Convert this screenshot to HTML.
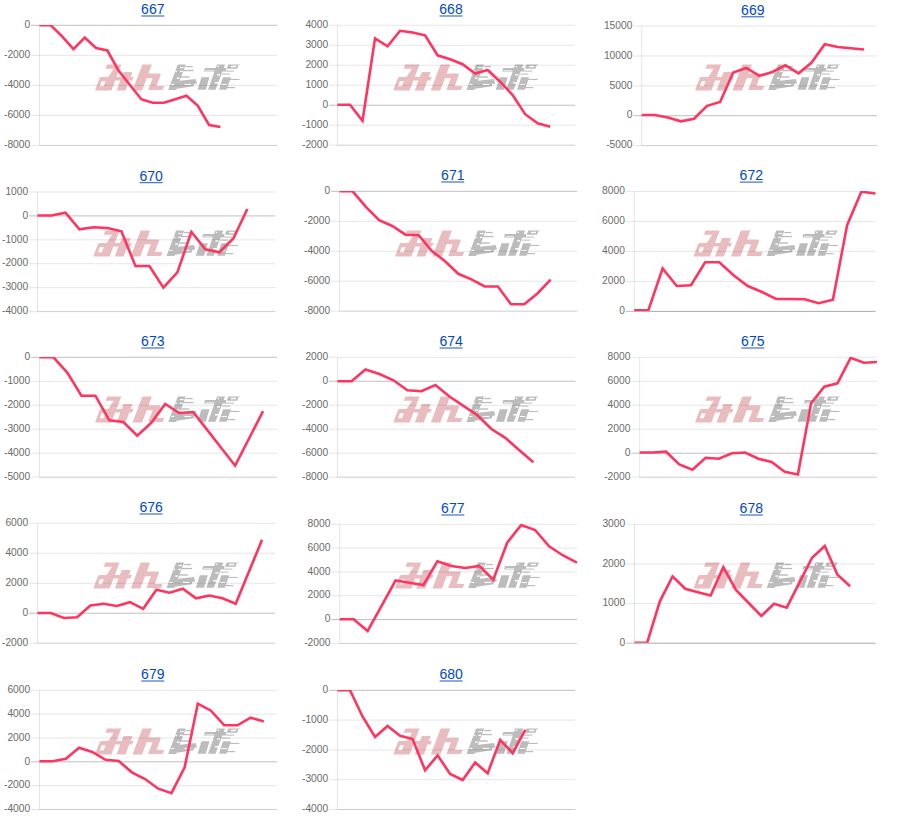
<!DOCTYPE html><html><head><meta charset="utf-8"><title>charts</title><style>
html,body{margin:0;padding:0;background:#fff;width:900px;height:830px;overflow:hidden}
svg{display:block}
.yl{font-family:"Liberation Sans",sans-serif;font-size:10.8px;fill:#6a6a6a;text-anchor:end}
.tt{font-family:"Liberation Sans",sans-serif;font-size:14px;fill:#0048c8;text-anchor:middle}
</style></head><body>
<svg width="900" height="830" viewBox="0 0 900 830">
<defs><g id="wm">
<g fill="#e9bcc0" transform="matrix(1,0,-0.38,1,9.88,0)">
<path d="M2.2,0 L16.4,0 L16.4,4.4 L2.2,4.4ZM10.5,4.4 L16.4,4.4 L16.4,26 L7.1,26 L7.1,16.9ZM0.6,12.5 L16.4,12.5 L16.4,16.9 L0,16.9ZM0,13.1 L3.1,12.5 L3.1,26 L0.6,26 L0,25.4ZM0,21.8 L16.4,21.8 L16.4,26 L0.6,26 L0,25.4ZM10.5,12.5 L33.4,12.5 L33.4,16.2 L10.5,16.2ZM21.5,7.5 L30.4,7.5 L30.4,26 L21.5,26ZM37.5,0 L47,0 L47,26 L37.5,26ZM47,9 L58.5,9 L59.8,10.3 L59.8,13.9 L47,13.9ZM53,13.9 L59.8,13.9 L59.8,25.5 L53,25.5ZM53,21.5 L67.5,21.5 L67.5,25.5 L53,25.5Z"/>
</g>
<g fill="#bcbcbc">
<path d="M82.8,0 L90.8,0 L81.2,25.5 L73.2,25.5ZM85,16.4 L100.8,14.6 L101.9,19 L98.8,19.6 L98.8,21.9 L73.2,25.5 L76,18ZM106.5,12.9 L114.5,12.9 L110.8,25.3 L102.5,25.3ZM110,3.7 L131,3.7 L131,7.2 L109,7.2ZM122,0 L130,0 L120.5,25.3 L113,25.3ZM128,12.9 L136,12.9 L131.5,25.3 L124,25.3Z"/>
<path fill-rule="evenodd" d="M133.3,0 L145,0 L144.6,0.7 L143.6,0.7 L142.1,4.45 L131.6,4.45 Z M136.1,1.45 L141.3,1.45 L140.8,2.95 L135.6,2.95 Z"/>
<rect x="90.8" y="1.5" width="6.9" height="1.3"/>
<rect x="88" y="5.5" width="10.6" height="1.3"/>
<rect x="86" y="11.9" width="8.6" height="1.4"/>
<rect x="131" y="6.2" width="8" height="1"/>
<rect x="127" y="9.2" width="8" height="1"/>
<rect x="135" y="14.5" width="9.5" height="1.1"/>
<rect x="132" y="22.6" width="8" height="1.2"/>
</g>
<g fill="#fff">
<rect x="85" y="2.6" width="3.6" height="1.1"/>
<rect x="80.3" y="6.4" width="1.6" height="1.3"/>
<rect x="85" y="6.4" width="2.7" height="1.3"/>
<rect x="81.9" y="13" width="2.7" height="1.4"/>
<rect x="76.1" y="19.5" width="3.1" height="1.1"/>
<rect x="89.4" y="19.5" width="6.7" height="1.1"/>
<rect x="122.5" y="1.4" width="1.5" height="1.2"/>
<rect x="110.5" y="5.6" width="8.5" height="0.6"/>
<rect x="122" y="9.8" width="3" height="1.4"/>
<rect x="120" y="17.6" width="5" height="1.5"/>
<rect x="126.5" y="19.7" width="5.5" height="1"/>
</g>
</g></defs>
<use href="#wm" x="95" y="64.4"/>
<line x1="31" y1="25.3" x2="277" y2="25.3" stroke="rgba(0,0,0,0.25)" stroke-width="1"/>
<text transform="translate(30.2,28) scale(0.95,1)" class="yl">0</text>
<line x1="31" y1="55.33" x2="277" y2="55.33" stroke="rgba(0,0,0,0.1)" stroke-width="1"/>
<text transform="translate(30.2,58.03) scale(0.95,1)" class="yl">-2000</text>
<line x1="31" y1="85.35" x2="277" y2="85.35" stroke="rgba(0,0,0,0.1)" stroke-width="1"/>
<text transform="translate(30.2,88.05) scale(0.95,1)" class="yl">-4000</text>
<line x1="31" y1="115.38" x2="277" y2="115.38" stroke="rgba(0,0,0,0.1)" stroke-width="1"/>
<text transform="translate(30.2,118.08) scale(0.95,1)" class="yl">-6000</text>
<line x1="31" y1="145.4" x2="277" y2="145.4" stroke="rgba(0,0,0,0.1)" stroke-width="1"/>
<text transform="translate(30.2,148.1) scale(0.95,1)" class="yl">-8000</text>
<line x1="39.5" y1="145.4" x2="277" y2="145.4" stroke="rgba(0,0,0,0.1)" stroke-width="1"/>
<line x1="39.5" y1="25.3" x2="39.5" y2="145.4" stroke="rgba(0,0,0,0.1)" stroke-width="1"/>
<clipPath id="c667"><rect x="36.5" y="24.9" width="243.5" height="120.1"/></clipPath>
<polyline clip-path="url(#c667)" points="39.5,25.3 50.81,25.3 62.12,36.3 73.43,49.2 84.74,37.5 96.05,48 107.36,50.5 118.67,70.8 129.98,85 141.29,99.2 152.6,102.8 163.9,102.8 175.21,99.2 186.52,95.8 197.83,105.8 209.14,125 220.45,127" fill="none" stroke="#ff3560" stroke-width="2.6" stroke-linejoin="miter" stroke-miterlimit="10" stroke-linecap="butt"/>
<text x="152.8" y="14.3" class="tt">667</text>
<rect x="141.3" y="15.5" width="23" height="1" fill="#1d55c4"/>
<use href="#wm" x="393.2" y="64.4"/>
<line x1="329" y1="25.3" x2="575.2" y2="25.3" stroke="rgba(0,0,0,0.1)" stroke-width="1"/>
<text transform="translate(328.2,28) scale(0.95,1)" class="yl">4000</text>
<line x1="329" y1="45.28" x2="575.2" y2="45.28" stroke="rgba(0,0,0,0.1)" stroke-width="1"/>
<text transform="translate(328.2,47.98) scale(0.95,1)" class="yl">3000</text>
<line x1="329" y1="65.27" x2="575.2" y2="65.27" stroke="rgba(0,0,0,0.1)" stroke-width="1"/>
<text transform="translate(328.2,67.97) scale(0.95,1)" class="yl">2000</text>
<line x1="329" y1="85.25" x2="575.2" y2="85.25" stroke="rgba(0,0,0,0.1)" stroke-width="1"/>
<text transform="translate(328.2,87.95) scale(0.95,1)" class="yl">1000</text>
<line x1="329" y1="105.23" x2="575.2" y2="105.23" stroke="rgba(0,0,0,0.25)" stroke-width="1"/>
<text transform="translate(328.2,107.93) scale(0.95,1)" class="yl">0</text>
<line x1="329" y1="125.22" x2="575.2" y2="125.22" stroke="rgba(0,0,0,0.1)" stroke-width="1"/>
<text transform="translate(328.2,127.92) scale(0.95,1)" class="yl">-1000</text>
<line x1="329" y1="145.2" x2="575.2" y2="145.2" stroke="rgba(0,0,0,0.1)" stroke-width="1"/>
<text transform="translate(328.2,147.9) scale(0.95,1)" class="yl">-2000</text>
<line x1="337.5" y1="145.2" x2="575.2" y2="145.2" stroke="rgba(0,0,0,0.1)" stroke-width="1"/>
<line x1="337.5" y1="25.3" x2="337.5" y2="145.2" stroke="rgba(0,0,0,0.1)" stroke-width="1"/>
<clipPath id="c668"><rect x="334.5" y="24.9" width="243.7" height="119.9"/></clipPath>
<polyline clip-path="url(#c668)" points="337.5,104.7 350.01,104.7 362.52,120.8 375.03,38.3 387.54,46.3 400.05,30.8 412.56,32.5 425.07,35.3 437.58,55.3 450.09,59.2 462.61,64.2 475.12,73.5 487.63,70 500.14,81.7 512.65,95 525.16,114.2 537.67,123.3 550.18,126.7" fill="none" stroke="#ff3560" stroke-width="2.6" stroke-linejoin="miter" stroke-miterlimit="10" stroke-linecap="butt"/>
<text x="451" y="14.3" class="tt">668</text>
<rect x="439.5" y="15.5" width="23" height="1" fill="#1d55c4"/>
<use href="#wm" x="695" y="64.4"/>
<line x1="633.2" y1="26.1" x2="877" y2="26.1" stroke="rgba(0,0,0,0.1)" stroke-width="1"/>
<text transform="translate(632.4,28.8) scale(0.95,1)" class="yl">15000</text>
<line x1="633.2" y1="55.98" x2="877" y2="55.98" stroke="rgba(0,0,0,0.1)" stroke-width="1"/>
<text transform="translate(632.4,58.68) scale(0.95,1)" class="yl">10000</text>
<line x1="633.2" y1="85.85" x2="877" y2="85.85" stroke="rgba(0,0,0,0.1)" stroke-width="1"/>
<text transform="translate(632.4,88.55) scale(0.95,1)" class="yl">5000</text>
<line x1="633.2" y1="115.72" x2="877" y2="115.72" stroke="rgba(0,0,0,0.25)" stroke-width="1"/>
<text transform="translate(632.4,118.42) scale(0.95,1)" class="yl">0</text>
<line x1="633.2" y1="145.6" x2="877" y2="145.6" stroke="rgba(0,0,0,0.1)" stroke-width="1"/>
<text transform="translate(632.4,148.3) scale(0.95,1)" class="yl">-5000</text>
<line x1="641.7" y1="145.6" x2="877" y2="145.6" stroke="rgba(0,0,0,0.1)" stroke-width="1"/>
<line x1="641.7" y1="26.1" x2="641.7" y2="145.6" stroke="rgba(0,0,0,0.1)" stroke-width="1"/>
<clipPath id="c669"><rect x="638.7" y="25.7" width="241.3" height="119.5"/></clipPath>
<polyline clip-path="url(#c669)" points="641.7,115 654.77,115 667.84,117.5 680.92,121.3 693.99,118.7 707.06,105.8 720.13,102 733.21,72.5 746.28,68 759.35,75.8 772.42,72 785.49,65.3 798.57,73.3 811.64,62.5 824.71,44.2 837.78,47 850.86,48.3 863.93,49.5" fill="none" stroke="#ff3560" stroke-width="2.6" stroke-linejoin="miter" stroke-miterlimit="10" stroke-linecap="butt"/>
<text x="752.8" y="15.1" class="tt">669</text>
<rect x="741.3" y="16.3" width="23" height="1" fill="#1d55c4"/>
<use href="#wm" x="93.3" y="230.4"/>
<line x1="29" y1="192" x2="275.3" y2="192" stroke="rgba(0,0,0,0.1)" stroke-width="1"/>
<text transform="translate(28.2,194.7) scale(0.95,1)" class="yl">1000</text>
<line x1="29" y1="215.92" x2="275.3" y2="215.92" stroke="rgba(0,0,0,0.25)" stroke-width="1"/>
<text transform="translate(28.2,218.62) scale(0.95,1)" class="yl">0</text>
<line x1="29" y1="239.84" x2="275.3" y2="239.84" stroke="rgba(0,0,0,0.1)" stroke-width="1"/>
<text transform="translate(28.2,242.54) scale(0.95,1)" class="yl">-1000</text>
<line x1="29" y1="263.76" x2="275.3" y2="263.76" stroke="rgba(0,0,0,0.1)" stroke-width="1"/>
<text transform="translate(28.2,266.46) scale(0.95,1)" class="yl">-2000</text>
<line x1="29" y1="287.68" x2="275.3" y2="287.68" stroke="rgba(0,0,0,0.1)" stroke-width="1"/>
<text transform="translate(28.2,290.38) scale(0.95,1)" class="yl">-3000</text>
<line x1="29" y1="311.6" x2="275.3" y2="311.6" stroke="rgba(0,0,0,0.1)" stroke-width="1"/>
<text transform="translate(28.2,314.3) scale(0.95,1)" class="yl">-4000</text>
<line x1="37.5" y1="311.6" x2="275.3" y2="311.6" stroke="rgba(0,0,0,0.1)" stroke-width="1"/>
<line x1="37.5" y1="192" x2="37.5" y2="311.6" stroke="rgba(0,0,0,0.1)" stroke-width="1"/>
<clipPath id="c670"><rect x="34.5" y="191.6" width="243.8" height="119.6"/></clipPath>
<polyline clip-path="url(#c670)" points="37.5,215.5 51.49,215.5 65.48,212.7 79.46,229.3 93.45,227.2 107.44,228 121.43,231.3 135.42,266 149.41,266 163.39,287.7 177.38,272.3 191.37,231.8 205.36,249.3 219.35,252.3 233.34,238.5 247.32,209" fill="none" stroke="#ff3560" stroke-width="2.6" stroke-linejoin="miter" stroke-miterlimit="10" stroke-linecap="butt"/>
<text x="151.1" y="181" class="tt">670</text>
<rect x="139.6" y="182.2" width="23" height="1" fill="#1d55c4"/>
<use href="#wm" x="395" y="230.4"/>
<line x1="331" y1="191.3" x2="577" y2="191.3" stroke="rgba(0,0,0,0.25)" stroke-width="1"/>
<text transform="translate(330.2,194) scale(0.95,1)" class="yl">0</text>
<line x1="331" y1="221.28" x2="577" y2="221.28" stroke="rgba(0,0,0,0.1)" stroke-width="1"/>
<text transform="translate(330.2,223.97) scale(0.95,1)" class="yl">-2000</text>
<line x1="331" y1="251.25" x2="577" y2="251.25" stroke="rgba(0,0,0,0.1)" stroke-width="1"/>
<text transform="translate(330.2,253.95) scale(0.95,1)" class="yl">-4000</text>
<line x1="331" y1="281.23" x2="577" y2="281.23" stroke="rgba(0,0,0,0.1)" stroke-width="1"/>
<text transform="translate(330.2,283.93) scale(0.95,1)" class="yl">-6000</text>
<line x1="331" y1="311.2" x2="577" y2="311.2" stroke="rgba(0,0,0,0.1)" stroke-width="1"/>
<text transform="translate(330.2,313.9) scale(0.95,1)" class="yl">-8000</text>
<line x1="339.5" y1="311.2" x2="577" y2="311.2" stroke="rgba(0,0,0,0.1)" stroke-width="1"/>
<line x1="339.5" y1="191.3" x2="339.5" y2="311.2" stroke="rgba(0,0,0,0.1)" stroke-width="1"/>
<clipPath id="c671"><rect x="336.5" y="190.9" width="243.5" height="119.9"/></clipPath>
<polyline clip-path="url(#c671)" points="339.5,191.3 352.69,191.3 365.89,206.8 379.08,220.2 392.28,226 405.47,234.7 418.67,235.2 431.86,251 445.06,261.3 458.25,273.8 471.44,279.3 484.64,286.5 497.83,286.5 511.03,304.3 524.22,304.3 537.42,293.5 550.61,279.7" fill="none" stroke="#ff3560" stroke-width="2.6" stroke-linejoin="miter" stroke-miterlimit="10" stroke-linecap="butt"/>
<text x="452.8" y="180.3" class="tt">671</text>
<rect x="441.3" y="181.5" width="23" height="1" fill="#1d55c4"/>
<use href="#wm" x="693.5" y="230.4"/>
<line x1="625.7" y1="191.4" x2="875.5" y2="191.4" stroke="rgba(0,0,0,0.1)" stroke-width="1"/>
<text transform="translate(624.9,194.1) scale(0.95,1)" class="yl">8000</text>
<line x1="625.7" y1="221.4" x2="875.5" y2="221.4" stroke="rgba(0,0,0,0.1)" stroke-width="1"/>
<text transform="translate(624.9,224.1) scale(0.95,1)" class="yl">6000</text>
<line x1="625.7" y1="251.4" x2="875.5" y2="251.4" stroke="rgba(0,0,0,0.1)" stroke-width="1"/>
<text transform="translate(624.9,254.1) scale(0.95,1)" class="yl">4000</text>
<line x1="625.7" y1="281.4" x2="875.5" y2="281.4" stroke="rgba(0,0,0,0.1)" stroke-width="1"/>
<text transform="translate(624.9,284.1) scale(0.95,1)" class="yl">2000</text>
<line x1="625.7" y1="311.4" x2="875.5" y2="311.4" stroke="rgba(0,0,0,0.25)" stroke-width="1"/>
<text transform="translate(624.9,314.1) scale(0.95,1)" class="yl">0</text>
<line x1="634.2" y1="311.4" x2="875.5" y2="311.4" stroke="rgba(0,0,0,0.1)" stroke-width="1"/>
<line x1="634.2" y1="191.4" x2="634.2" y2="311.4" stroke="rgba(0,0,0,0.1)" stroke-width="1"/>
<clipPath id="c672"><rect x="631.2" y="191" width="247.3" height="120"/></clipPath>
<polyline clip-path="url(#c672)" points="634.2,310.2 648.39,310.2 662.59,268.5 676.78,286 690.98,285.2 705.17,262.3 719.36,262.3 733.56,275.2 747.75,286 761.95,292 776.14,299 790.34,299 804.53,299.3 818.72,303.2 832.92,299.7 847.11,225.2 861.31,191.8 875.5,193.5" fill="none" stroke="#ff3560" stroke-width="2.6" stroke-linejoin="miter" stroke-miterlimit="10" stroke-linecap="butt"/>
<text x="751.3" y="180.4" class="tt">672</text>
<rect x="739.8" y="181.6" width="23" height="1" fill="#1d55c4"/>
<use href="#wm" x="95" y="396.4"/>
<line x1="31" y1="357.3" x2="277" y2="357.3" stroke="rgba(0,0,0,0.25)" stroke-width="1"/>
<text transform="translate(30.2,360) scale(0.95,1)" class="yl">0</text>
<line x1="31" y1="381.28" x2="277" y2="381.28" stroke="rgba(0,0,0,0.1)" stroke-width="1"/>
<text transform="translate(30.2,383.98) scale(0.95,1)" class="yl">-1000</text>
<line x1="31" y1="405.26" x2="277" y2="405.26" stroke="rgba(0,0,0,0.1)" stroke-width="1"/>
<text transform="translate(30.2,407.96) scale(0.95,1)" class="yl">-2000</text>
<line x1="31" y1="429.24" x2="277" y2="429.24" stroke="rgba(0,0,0,0.1)" stroke-width="1"/>
<text transform="translate(30.2,431.94) scale(0.95,1)" class="yl">-3000</text>
<line x1="31" y1="453.22" x2="277" y2="453.22" stroke="rgba(0,0,0,0.1)" stroke-width="1"/>
<text transform="translate(30.2,455.92) scale(0.95,1)" class="yl">-4000</text>
<line x1="31" y1="477.2" x2="277" y2="477.2" stroke="rgba(0,0,0,0.1)" stroke-width="1"/>
<text transform="translate(30.2,479.9) scale(0.95,1)" class="yl">-5000</text>
<line x1="39.5" y1="477.2" x2="277" y2="477.2" stroke="rgba(0,0,0,0.1)" stroke-width="1"/>
<line x1="39.5" y1="357.3" x2="39.5" y2="477.2" stroke="rgba(0,0,0,0.1)" stroke-width="1"/>
<clipPath id="c673"><rect x="36.5" y="356.9" width="243.5" height="119.9"/></clipPath>
<polyline clip-path="url(#c673)" points="39.5,357.3 53.47,357.3 67.44,372.8 81.41,395.7 95.38,395.7 109.35,420.3 123.32,422 137.29,435.7 151.26,422.8 165.24,404 179.21,413 193.18,412 207.15,429.9 221.12,447.8 235.09,465.7 249.06,438.5 263.03,411.2" fill="none" stroke="#ff3560" stroke-width="2.6" stroke-linejoin="miter" stroke-miterlimit="10" stroke-linecap="butt"/>
<text x="152.8" y="346.3" class="tt">673</text>
<rect x="141.3" y="347.5" width="23" height="1" fill="#1d55c4"/>
<use href="#wm" x="393.3" y="396.4"/>
<line x1="329" y1="357.3" x2="575.3" y2="357.3" stroke="rgba(0,0,0,0.1)" stroke-width="1"/>
<text transform="translate(328.2,360) scale(0.95,1)" class="yl">2000</text>
<line x1="329" y1="381.28" x2="575.3" y2="381.28" stroke="rgba(0,0,0,0.25)" stroke-width="1"/>
<text transform="translate(328.2,383.98) scale(0.95,1)" class="yl">0</text>
<line x1="329" y1="405.26" x2="575.3" y2="405.26" stroke="rgba(0,0,0,0.1)" stroke-width="1"/>
<text transform="translate(328.2,407.96) scale(0.95,1)" class="yl">-2000</text>
<line x1="329" y1="429.24" x2="575.3" y2="429.24" stroke="rgba(0,0,0,0.1)" stroke-width="1"/>
<text transform="translate(328.2,431.94) scale(0.95,1)" class="yl">-4000</text>
<line x1="329" y1="453.22" x2="575.3" y2="453.22" stroke="rgba(0,0,0,0.1)" stroke-width="1"/>
<text transform="translate(328.2,455.92) scale(0.95,1)" class="yl">-6000</text>
<line x1="329" y1="477.2" x2="575.3" y2="477.2" stroke="rgba(0,0,0,0.1)" stroke-width="1"/>
<text transform="translate(328.2,479.9) scale(0.95,1)" class="yl">-8000</text>
<line x1="337.5" y1="477.2" x2="575.3" y2="477.2" stroke="rgba(0,0,0,0.1)" stroke-width="1"/>
<line x1="337.5" y1="357.3" x2="337.5" y2="477.2" stroke="rgba(0,0,0,0.1)" stroke-width="1"/>
<clipPath id="c674"><rect x="334.5" y="356.9" width="243.8" height="119.9"/></clipPath>
<polyline clip-path="url(#c674)" points="337.5,381.2 351.49,381.2 365.48,369.5 379.46,374 393.45,380.3 407.44,390.3 421.43,391.2 435.42,385 449.41,396.5 463.39,405.8 477.38,415.2 491.37,429 505.36,437.8 519.35,450.3 533.34,462.3" fill="none" stroke="#ff3560" stroke-width="2.6" stroke-linejoin="miter" stroke-miterlimit="10" stroke-linecap="butt"/>
<text x="451.1" y="346.3" class="tt">674</text>
<rect x="439.6" y="347.5" width="23" height="1" fill="#1d55c4"/>
<use href="#wm" x="695" y="396.4"/>
<line x1="631.2" y1="357.3" x2="877" y2="357.3" stroke="rgba(0,0,0,0.1)" stroke-width="1"/>
<text transform="translate(630.4,360) scale(0.95,1)" class="yl">8000</text>
<line x1="631.2" y1="381.28" x2="877" y2="381.28" stroke="rgba(0,0,0,0.1)" stroke-width="1"/>
<text transform="translate(630.4,383.98) scale(0.95,1)" class="yl">6000</text>
<line x1="631.2" y1="405.26" x2="877" y2="405.26" stroke="rgba(0,0,0,0.1)" stroke-width="1"/>
<text transform="translate(630.4,407.96) scale(0.95,1)" class="yl">4000</text>
<line x1="631.2" y1="429.24" x2="877" y2="429.24" stroke="rgba(0,0,0,0.1)" stroke-width="1"/>
<text transform="translate(630.4,431.94) scale(0.95,1)" class="yl">2000</text>
<line x1="631.2" y1="453.22" x2="877" y2="453.22" stroke="rgba(0,0,0,0.25)" stroke-width="1"/>
<text transform="translate(630.4,455.92) scale(0.95,1)" class="yl">0</text>
<line x1="631.2" y1="477.2" x2="877" y2="477.2" stroke="rgba(0,0,0,0.1)" stroke-width="1"/>
<text transform="translate(630.4,479.9) scale(0.95,1)" class="yl">-2000</text>
<line x1="639.7" y1="477.2" x2="877" y2="477.2" stroke="rgba(0,0,0,0.1)" stroke-width="1"/>
<line x1="639.7" y1="357.3" x2="639.7" y2="477.2" stroke="rgba(0,0,0,0.1)" stroke-width="1"/>
<clipPath id="c675"><rect x="636.7" y="356.9" width="243.3" height="119.9"/></clipPath>
<polyline clip-path="url(#c675)" points="639.7,452.5 652.88,452.5 666.07,451.7 679.25,464.5 692.43,469.8 705.62,457.8 718.8,458.7 731.98,453.3 745.17,452.5 758.35,458.7 771.53,462 784.72,471.7 797.9,474.5 811.08,403.3 824.27,386.7 837.45,383.3 850.63,357.8 863.82,362.8 877,362" fill="none" stroke="#ff3560" stroke-width="2.6" stroke-linejoin="miter" stroke-miterlimit="10" stroke-linecap="butt"/>
<text x="752.8" y="346.3" class="tt">675</text>
<rect x="741.3" y="347.5" width="23" height="1" fill="#1d55c4"/>
<use href="#wm" x="93.3" y="562.4"/>
<line x1="29" y1="523.3" x2="275.3" y2="523.3" stroke="rgba(0,0,0,0.1)" stroke-width="1"/>
<text transform="translate(28.2,526) scale(0.95,1)" class="yl">6000</text>
<line x1="29" y1="553.27" x2="275.3" y2="553.27" stroke="rgba(0,0,0,0.1)" stroke-width="1"/>
<text transform="translate(28.2,555.98) scale(0.95,1)" class="yl">4000</text>
<line x1="29" y1="583.25" x2="275.3" y2="583.25" stroke="rgba(0,0,0,0.1)" stroke-width="1"/>
<text transform="translate(28.2,585.95) scale(0.95,1)" class="yl">2000</text>
<line x1="29" y1="613.23" x2="275.3" y2="613.23" stroke="rgba(0,0,0,0.25)" stroke-width="1"/>
<text transform="translate(28.2,615.93) scale(0.95,1)" class="yl">0</text>
<line x1="29" y1="643.2" x2="275.3" y2="643.2" stroke="rgba(0,0,0,0.1)" stroke-width="1"/>
<text transform="translate(28.2,645.9) scale(0.95,1)" class="yl">-2000</text>
<line x1="37.5" y1="643.2" x2="275.3" y2="643.2" stroke="rgba(0,0,0,0.1)" stroke-width="1"/>
<line x1="37.5" y1="523.3" x2="37.5" y2="643.2" stroke="rgba(0,0,0,0.1)" stroke-width="1"/>
<clipPath id="c676"><rect x="34.5" y="522.9" width="243.8" height="119.9"/></clipPath>
<polyline clip-path="url(#c676)" points="37.5,613 50.71,613 63.92,618 77.13,617.2 90.34,605.5 103.56,603.8 116.77,606 129.98,602.2 143.19,608.8 156.4,589.8 169.61,592.7 182.82,588.8 196.03,598.3 209.24,595.5 222.46,598.3 235.67,603.8 248.88,571.8 262.09,539.7" fill="none" stroke="#ff3560" stroke-width="2.6" stroke-linejoin="miter" stroke-miterlimit="10" stroke-linecap="butt"/>
<text x="151.1" y="512.3" class="tt">676</text>
<rect x="139.6" y="513.5" width="23" height="1" fill="#1d55c4"/>
<use href="#wm" x="395" y="562.4"/>
<line x1="331.2" y1="524.3" x2="577" y2="524.3" stroke="rgba(0,0,0,0.1)" stroke-width="1"/>
<text transform="translate(330.4,527) scale(0.95,1)" class="yl">8000</text>
<line x1="331.2" y1="548.12" x2="577" y2="548.12" stroke="rgba(0,0,0,0.1)" stroke-width="1"/>
<text transform="translate(330.4,550.82) scale(0.95,1)" class="yl">6000</text>
<line x1="331.2" y1="571.94" x2="577" y2="571.94" stroke="rgba(0,0,0,0.1)" stroke-width="1"/>
<text transform="translate(330.4,574.64) scale(0.95,1)" class="yl">4000</text>
<line x1="331.2" y1="595.76" x2="577" y2="595.76" stroke="rgba(0,0,0,0.1)" stroke-width="1"/>
<text transform="translate(330.4,598.46) scale(0.95,1)" class="yl">2000</text>
<line x1="331.2" y1="619.58" x2="577" y2="619.58" stroke="rgba(0,0,0,0.25)" stroke-width="1"/>
<text transform="translate(330.4,622.28) scale(0.95,1)" class="yl">0</text>
<line x1="331.2" y1="643.4" x2="577" y2="643.4" stroke="rgba(0,0,0,0.1)" stroke-width="1"/>
<text transform="translate(330.4,646.1) scale(0.95,1)" class="yl">-2000</text>
<line x1="339.7" y1="643.4" x2="577" y2="643.4" stroke="rgba(0,0,0,0.1)" stroke-width="1"/>
<line x1="339.7" y1="524.3" x2="339.7" y2="643.4" stroke="rgba(0,0,0,0.1)" stroke-width="1"/>
<clipPath id="c677"><rect x="336.7" y="523.9" width="243.3" height="119.1"/></clipPath>
<polyline clip-path="url(#c677)" points="339.7,619.3 353.66,619.3 367.62,631 381.58,605.8 395.54,580.5 409.49,582.7 423.45,585 437.41,561.3 451.37,566 465.33,568 479.29,566 493.25,579.7 507.21,542.7 521.16,525 535.12,530 549.08,546.3 563.04,555.5 577,562.7" fill="none" stroke="#ff3560" stroke-width="2.6" stroke-linejoin="miter" stroke-miterlimit="10" stroke-linecap="butt"/>
<text x="452.8" y="513.3" class="tt">677</text>
<rect x="441.3" y="514.5" width="23" height="1" fill="#1d55c4"/>
<use href="#wm" x="693.5" y="562.4"/>
<line x1="626" y1="524.3" x2="875.5" y2="524.3" stroke="rgba(0,0,0,0.1)" stroke-width="1"/>
<text transform="translate(625.2,527) scale(0.95,1)" class="yl">3000</text>
<line x1="626" y1="563.93" x2="875.5" y2="563.93" stroke="rgba(0,0,0,0.1)" stroke-width="1"/>
<text transform="translate(625.2,566.63) scale(0.95,1)" class="yl">2000</text>
<line x1="626" y1="603.57" x2="875.5" y2="603.57" stroke="rgba(0,0,0,0.1)" stroke-width="1"/>
<text transform="translate(625.2,606.27) scale(0.95,1)" class="yl">1000</text>
<line x1="626" y1="643.2" x2="875.5" y2="643.2" stroke="rgba(0,0,0,0.25)" stroke-width="1"/>
<text transform="translate(625.2,645.9) scale(0.95,1)" class="yl">0</text>
<line x1="634.5" y1="643.2" x2="875.5" y2="643.2" stroke="rgba(0,0,0,0.1)" stroke-width="1"/>
<line x1="634.5" y1="524.3" x2="634.5" y2="643.2" stroke="rgba(0,0,0,0.1)" stroke-width="1"/>
<clipPath id="c678"><rect x="631.5" y="523.9" width="247" height="118.9"/></clipPath>
<polyline clip-path="url(#c678)" points="634.5,642.7 647.18,642.7 659.87,601.3 672.55,576.3 685.24,588.8 697.92,592.2 710.61,595.5 723.29,567.2 735.97,590 748.66,603 761.34,616 774.03,603.8 786.71,607.7 799.39,582.7 812.08,557.7 824.76,546 837.45,574.7 850.13,586.3" fill="none" stroke="#ff3560" stroke-width="2.6" stroke-linejoin="miter" stroke-miterlimit="10" stroke-linecap="butt"/>
<text x="751.3" y="513.3" class="tt">678</text>
<rect x="739.8" y="514.5" width="23" height="1" fill="#1d55c4"/>
<use href="#wm" x="95" y="728.4"/>
<line x1="31" y1="690.3" x2="277" y2="690.3" stroke="rgba(0,0,0,0.1)" stroke-width="1"/>
<text transform="translate(30.2,693) scale(0.95,1)" class="yl">6000</text>
<line x1="31" y1="714.14" x2="277" y2="714.14" stroke="rgba(0,0,0,0.1)" stroke-width="1"/>
<text transform="translate(30.2,716.84) scale(0.95,1)" class="yl">4000</text>
<line x1="31" y1="737.98" x2="277" y2="737.98" stroke="rgba(0,0,0,0.1)" stroke-width="1"/>
<text transform="translate(30.2,740.68) scale(0.95,1)" class="yl">2000</text>
<line x1="31" y1="761.82" x2="277" y2="761.82" stroke="rgba(0,0,0,0.25)" stroke-width="1"/>
<text transform="translate(30.2,764.52) scale(0.95,1)" class="yl">0</text>
<line x1="31" y1="785.66" x2="277" y2="785.66" stroke="rgba(0,0,0,0.1)" stroke-width="1"/>
<text transform="translate(30.2,788.36) scale(0.95,1)" class="yl">-2000</text>
<line x1="31" y1="809.5" x2="277" y2="809.5" stroke="rgba(0,0,0,0.1)" stroke-width="1"/>
<text transform="translate(30.2,812.2) scale(0.95,1)" class="yl">-4000</text>
<line x1="39.5" y1="809.5" x2="277" y2="809.5" stroke="rgba(0,0,0,0.1)" stroke-width="1"/>
<line x1="39.5" y1="690.3" x2="39.5" y2="809.5" stroke="rgba(0,0,0,0.1)" stroke-width="1"/>
<clipPath id="c679"><rect x="36.5" y="689.9" width="243.5" height="119.2"/></clipPath>
<polyline clip-path="url(#c679)" points="39.5,761.2 52.69,761.2 65.89,758.7 79.08,747.7 92.28,752 105.47,759.8 118.67,761 131.86,772.3 145.06,779 158.25,788.7 171.44,793.2 184.64,767.3 197.83,703.7 211.03,710.7 224.22,725.3 237.42,725.3 250.61,717.7 263.81,721.5" fill="none" stroke="#ff3560" stroke-width="2.6" stroke-linejoin="miter" stroke-miterlimit="10" stroke-linecap="butt"/>
<text x="152.8" y="679.3" class="tt">679</text>
<rect x="141.3" y="680.5" width="23" height="1" fill="#1d55c4"/>
<use href="#wm" x="393.3" y="728.4"/>
<line x1="329" y1="690.3" x2="575.3" y2="690.3" stroke="rgba(0,0,0,0.25)" stroke-width="1"/>
<text transform="translate(328.2,693) scale(0.95,1)" class="yl">0</text>
<line x1="329" y1="720.1" x2="575.3" y2="720.1" stroke="rgba(0,0,0,0.1)" stroke-width="1"/>
<text transform="translate(328.2,722.8) scale(0.95,1)" class="yl">-1000</text>
<line x1="329" y1="749.9" x2="575.3" y2="749.9" stroke="rgba(0,0,0,0.1)" stroke-width="1"/>
<text transform="translate(328.2,752.6) scale(0.95,1)" class="yl">-2000</text>
<line x1="329" y1="779.7" x2="575.3" y2="779.7" stroke="rgba(0,0,0,0.1)" stroke-width="1"/>
<text transform="translate(328.2,782.4) scale(0.95,1)" class="yl">-3000</text>
<line x1="329" y1="809.5" x2="575.3" y2="809.5" stroke="rgba(0,0,0,0.1)" stroke-width="1"/>
<text transform="translate(328.2,812.2) scale(0.95,1)" class="yl">-4000</text>
<line x1="337.5" y1="809.5" x2="575.3" y2="809.5" stroke="rgba(0,0,0,0.1)" stroke-width="1"/>
<line x1="337.5" y1="690.3" x2="337.5" y2="809.5" stroke="rgba(0,0,0,0.1)" stroke-width="1"/>
<clipPath id="c680"><rect x="334.5" y="689.9" width="243.8" height="119.2"/></clipPath>
<polyline clip-path="url(#c680)" points="337.5,690.3 350.02,690.3 362.53,716.5 375.05,737 387.56,726 400.08,735.7 412.59,739 425.11,770.3 437.63,755.3 450.14,774 462.66,780 475.17,762.5 487.69,773.2 500.21,739.8 512.72,753.2 525.24,729.8" fill="none" stroke="#ff3560" stroke-width="2.6" stroke-linejoin="miter" stroke-miterlimit="10" stroke-linecap="butt"/>
<text x="451.1" y="679.3" class="tt">680</text>
<rect x="439.6" y="680.5" width="23" height="1" fill="#1d55c4"/>
</svg></body></html>
